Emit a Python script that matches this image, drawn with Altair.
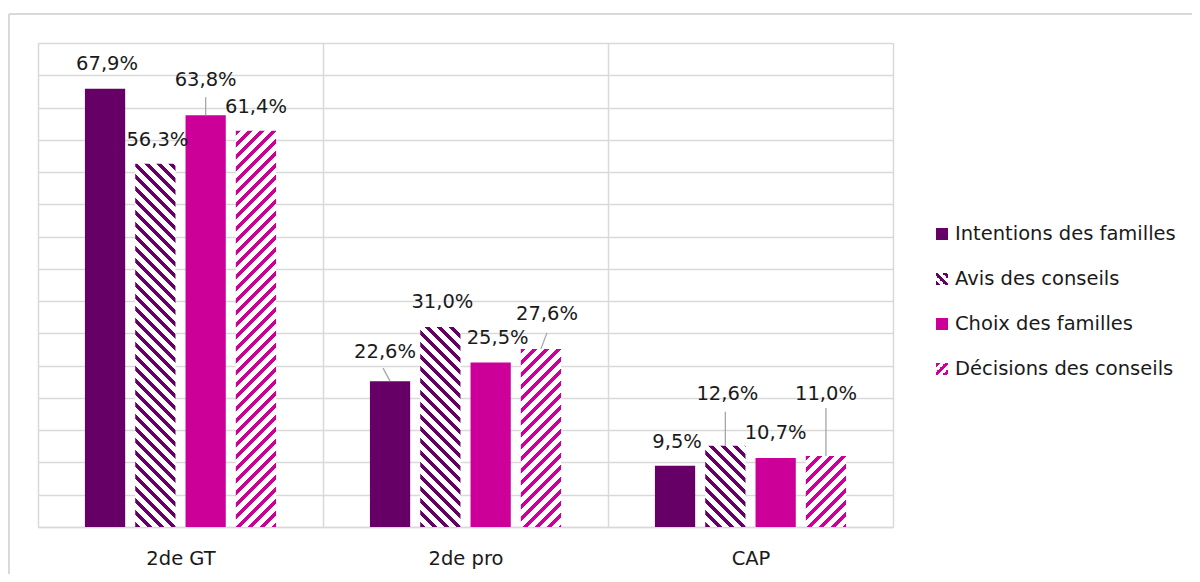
import math
import altair as alt
import pandas as pd

categories = ["2de GT", "2de pro", "CAP"]
series = ["Intentions des familles", "Avis des conseils", "Choix des familles", "Décisions des conseils"]
intentions = [67.9, 22.6, 9.5]
avis = [56.3, 31.0, 12.6]
choix = [63.8, 25.5, 10.7]
decisions = [61.4, 27.6, 11.0]

# styling
colors = ["#660066", "#660066", "#cc0099", "#cc0099"]
hatch = [None, "back", None, "fwd"]
FONT = "DejaVu Sans"
FS = 19.5
TXT = "#1a1a1a"
GRID = "#d9d9d9"

# label nudges (px) per category x series
label_dx = [[2, 2, 0, 0], [-5, 2, 7, 6], [2, 2, 0, 0]]
label_dy = [[-25, -24, -35, -24], [-29, -25, -24, -35], [-24, -52, -25, -62]]
leader_len = [[0, 0, 18, 0], [13, 0, 0, 16], [0, 34, 0, 48]]
leader_dx = [[0, 0, 0, 0], [-7, 0, 0, 6], [0, 0, 0, 0]]

W, H = 855, 484
YMAX = 75
PX = H / YMAX
STEP = 285 / (4 - 0.2 + 2 * 0.933)
BW = STEP * 0.8

vals = [intentions, avis, choix, decisions]
rows = []
for i, c in enumerate(categories):
    for j, s in enumerate(series):
        rows.append({"cat": c, "series": s, "value": vals[j][i], "i": i, "j": j})
df = pd.DataFrame(rows)


def hatch_gradient(color, w, h, kind, P=12.0, frac=0.42):
    total = w + h
    c = total / (w * w + h * h)
    stops = []
    n = int(math.ceil(total / P)) + 1
    for k in range(n):
        a = min(1.0, k * P / total)
        b = min(1.0, (k * P + frac * P) / total)
        e = min(1.0, (k + 1) * P / total)
        stops += [
            {"offset": a, "color": color},
            {"offset": b, "color": color},
            {"offset": b, "color": "#ffffff"},
            {"offset": e, "color": "#ffffff"},
        ]
    if kind == "fwd":
        g = {"gradient": "linear", "x1": 0, "y1": 0, "x2": c * w, "y2": c * h, "stops": stops}
    else:
        g = {"gradient": "linear", "x1": 0, "y1": 1, "x2": c * w, "y2": 1 - c * h, "stops": stops}
    return g


base = alt.Chart(df)
xenc = alt.X(
    "cat:N",
    sort=categories,
    scale=alt.Scale(domain=categories, paddingInner=0, paddingOuter=0),
    axis=alt.Axis(
        title=None, labelAngle=0, grid=True, gridColor=GRID, gridWidth=1.5,
        tickBand="extent", ticks=False, domainColor=GRID, domainWidth=1.5,
        labelFont=FONT, labelFontSize=FS, labelColor=TXT, labelPadding=22,
    ),
)
xoff = alt.XOffset("series:N", sort=series,
                   scale=alt.Scale(domain=series, paddingInner=0.2, paddingOuter=0.933))
yenc = alt.Y(
    "value:Q",
    scale=alt.Scale(domain=[0, YMAX], nice=False),
    axis=alt.Axis(title=None, labels=False, ticks=False, domain=False,
                  values=list(range(0, YMAX + 1, 5)), grid=True, gridColor=GRID, gridWidth=1.5),
)

layers = []
for i, c in enumerate(categories):
    for j, s in enumerate(series):
        v = vals[j][i]
        f = (alt.datum.i == i) & (alt.datum.j == j)
        if hatch[j] is None:
            fill = colors[j]
        else:
            fill = hatch_gradient(colors[j], BW, v * PX, hatch[j])
        bar = base.transform_filter(f).mark_bar(color=fill, opacity=1, strokeWidth=0).encode(
            x=xenc, xOffset=xoff, y=yenc)
        layers.append(bar)

for i, c in enumerate(categories):
    for j, s in enumerate(series):
        f = (alt.datum.i == i) & (alt.datum.j == j)
        if leader_len[i][j] > 0:
            ln = leader_len[i][j] / PX
            x2off = (j - 1.5) * STEP + leader_dx[i][j]
            rule = base.transform_filter(f).transform_calculate(
                top=f"datum.value + {ln}"
            ).mark_rule(color="#a6a6a6", strokeWidth=1.3, x2Offset=x2off).encode(
                x=xenc, x2=alt.X2("cat:N"), xOffset=xoff, y=yenc, y2=alt.Y2("top:Q"))
            layers.append(rule)
        txt = base.transform_filter(f).transform_calculate(
            lab="replace(format(datum.value, '.1f'), '.', ',') + '%'"
        ).mark_text(font=FONT, fontSize=FS, color=TXT, dx=label_dx[i][j], dy=label_dy[i][j],
                    baseline="middle", align="center").encode(
            x=xenc, xOffset=xoff, y=yenc, text="lab:N")
        layers.append(txt)

# manual legend
LX = 904
LY0 = 191
for j, s in enumerate(series):
    if hatch[j] is None:
        fill = colors[j]
    else:
        fill = hatch_gradient(colors[j], 12, 12, hatch[j], P=9, frac=0.45)
    sq = alt.Chart(pd.DataFrame({"series": [s]})).mark_square(
        size=144, color=fill, opacity=1, filled=True, strokeWidth=0).encode(
        x=alt.value(LX), y=alt.value(LY0 + 45 * j))
    tx = alt.Chart(pd.DataFrame({"series": [s]})).mark_text(
        font=FONT, fontSize=FS, color=TXT, align="left", baseline="middle").encode(
        x=alt.value(LX + 13), y=alt.value(LY0 + 45 * j), text="series:N")
    layers += [sq, tx]

# outer frame
frame_top = alt.Chart(pd.DataFrame({"a": [0]})).mark_rule(color=GRID, strokeWidth=2).encode(
    x=alt.value(-29), x2=alt.value(1200), y=alt.value(-29))
frame_left = alt.Chart(pd.DataFrame({"a": [0]})).mark_rule(color=GRID, strokeWidth=2).encode(
    x=alt.value(-29), y=alt.value(-29), y2=alt.value(700))
layers += [frame_top, frame_left]

chart = alt.layer(*layers).properties(
    width=W, height=H,
    autosize=alt.AutoSizeParams(type="none"),
    padding={"left": 30, "top": 35, "right": 299, "bottom": 47},
).configure_view(stroke=GRID, strokeWidth=1.5).configure(background="white")

chart.save("out.html", embed_options={"renderer": "svg", "actions": False})
